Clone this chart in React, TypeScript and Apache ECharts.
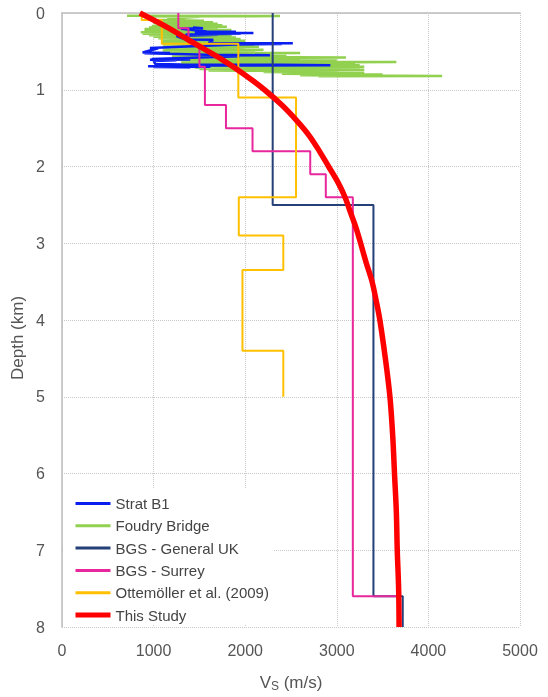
import React, { useEffect, useRef } from 'react';
import * as echarts from 'echarts';

const FONT = '"Liberation Sans", Arial, Helvetica, sans-serif';

// Axis ranges / ticks
const vsMin = 0, vsMax = 5000, vsStep = 1000;
const depthMin = 0, depthMax = 8, depthStep = 1;

// Series names
const seriesNames = ['Strat B1', 'Foudry Bridge', 'BGS - General UK', 'BGS - Surrey', 'Ottemöller et al. (2009)', 'This Study'];

// BGS - General UK layered model
const bgsUkVs = [2300, 3400, 3720];
const bgsUkBounds = [0, 2.5, 7.6, 8.0];

// BGS - Surrey layered model
const bgsSurreyVs = [1270, 1380, 1500, 1560, 1790, 2080, 2710, 2880, 3175, 3680];
const bgsSurreyBounds = [0, 0.2, 0.4, 0.7, 1.2, 1.5, 1.8, 2.1, 2.4, 7.6, 8.0];

// Ottemöller et al. (2009)
const ottVs = [870, 1090, 1925, 2555, 1930, 2416, 1970, 2416];
const ottBounds = [0, 0.09, 0.4, 1.1, 2.4, 2.9, 3.35, 4.4, 5.0];

// This Study (smooth gradient)
const studyDepth = [0, 0.2, 0.4, 0.6, 0.8, 1.0, 1.2, 1.4, 1.6, 1.8, 2.0, 2.2, 2.4, 2.6, 2.8, 3.0, 3.25, 3.5, 3.75, 4.0, 4.5, 5.0, 5.5, 6.0, 6.5, 7.0, 7.5, 8.0];
const studyVs = [850, 1170, 1450, 1740, 1990, 2210, 2400, 2560, 2700, 2810, 2910, 3010, 3090, 3150, 3210, 3260, 3320, 3385, 3430, 3470, 3530, 3580, 3610, 3630, 3650, 3660, 3675, 3680];

// Foudry Bridge log
const foudryDepth = [0.035, 0.04, 0.045, 0.05, 0.075, 0.08, 0.09, 0.10, 0.11, 0.12, 0.13, 0.14, 0.15, 0.16, 0.17, 0.18, 0.19, 0.20, 0.21, 0.22, 0.23, 0.24, 0.25, 0.26, 0.27, 0.28, 0.29, 0.30, 0.31, 0.32, 0.33, 0.34, 0.35, 0.36, 0.37, 0.38, 0.39, 0.40, 0.41, 0.42, 0.43, 0.44, 0.45, 0.46, 0.47, 0.48, 0.49, 0.50, 0.51, 0.52, 0.53, 0.54, 0.55, 0.56, 0.57, 0.58, 0.59, 0.60, 0.61, 0.62, 0.63, 0.64, 0.65, 0.66, 0.67, 0.68, 0.69, 0.70, 0.71, 0.72, 0.73, 0.74, 0.75, 0.76, 0.77, 0.78, 0.79, 0.80, 0.81, 0.82, 0.825];
const foudryVs = [710, 2380, 1000, 1500, 1150, 1350, 1050, 1550, 1080, 1650, 1000, 1700, 1050, 1750, 980, 1800, 950, 1700, 900, 1850, 900, 1750, 860, 1900, 880, 1800, 950, 1850, 1000, 1900, 1050, 1950, 1100, 2000, 1100, 1900, 1080, 2050, 1100, 2100, 1120, 2150, 1100, 2000, 1130, 2200, 1100, 2100, 1150, 2600, 1150, 2300, 1200, 2450, 1200, 3100, 1250, 2600, 1250, 3000, 1300, 3650, 1300, 3200, 1350, 3250, 1400, 3300, 1450, 3250, 1500, 3300, 1600, 3000, 2200, 3300, 2400, 3500, 2600, 4150, 2800];

// Strat B1 log
const stratDepth = [0.19, 0.20, 0.205, 0.24, 0.245, 0.25, 0.26, 0.265, 0.27, 0.28, 0.285, 0.30, 0.345, 0.35, 0.39, 0.395, 0.40, 0.405, 0.41, 0.455, 0.46, 0.515, 0.52, 0.525, 0.53, 0.545, 0.55, 0.555, 0.565, 0.60, 0.605, 0.61, 0.615, 0.625, 0.665, 0.67, 0.675, 0.68, 0.685, 0.695, 0.70, 0.705, 0.71];
const stratVs = [1430, 1540, 1300, 1580, 1900, 1450, 2090, 1500, 1950, 1350, 1700, 1250, 1350, 1650, 1600, 2520, 1800, 2400, 1900, 960, 1050, 880, 1180, 900, 1150, 1580, 2270, 1620, 1940, 980, 1400, 960, 1250, 1000, 1020, 1300, 2380, 2930, 1400, 940, 1620, 1000, 1400];

const colors = {
  strat: '#0A1EF0',
  foudry: '#92D050',
  bgsUk: '#253F78',
  surrey: '#E8279C',
  ott: '#FFC000',
  study: '#FF0000',
};

function steps(vs: number[], bounds: number[]) {
  const pts: number[][] = [];
  vs.forEach((v, i) => {
    pts.push([v, bounds[i]]);
    pts.push([v, bounds[i + 1]]);
  });
  return pts;
}

function pairs(vs: number[], ds: number[]) {
  return vs.map((v, i) => [v, ds[i]]);
}

const hiddenSymbol = { color: 'rgba(0,0,0,0)', borderColor: 'rgba(0,0,0,0)', borderWidth: 0, opacity: 0 };

export default function App() {
  const ref = useRef<HTMLDivElement>(null);
  useEffect(() => {
    if (!ref.current) return;
    const chart = echarts.init(ref.current, null, { renderer: 'svg' });
    const lineSeries = (name: string, data: number[][], color: string, width: number, smooth: number | boolean = false) => ({
      name,
      type: 'line',
      data,
      symbol: 'none',
      showSymbol: false,
      smooth,
      z: 2,
      lineStyle: { color, width },
      itemStyle: { color },
      emphasis: { disabled: true },
    });
    const legendItem = (name: string, color: string, width: number) => ({
      name,
      itemStyle: hiddenSymbol,
      lineStyle: { color, width, opacity: 1 },
    });
    chart.setOption({
      animation: false,
      grid: { left: 62, right: 28, top: 13, bottom: 69 },
      xAxis: {
        type: 'value',
        min: vsMin,
        max: vsMax,
        interval: vsStep,
        name: 'V{s|S} (m/s)',
        nameLocation: 'middle',
        nameGap: 45,
        nameTextStyle: {
          fontSize: 17,
          color: '#555',
          fontFamily: FONT,
          rich: { s: { fontSize: 12, color: '#555', fontFamily: FONT, padding: [8, 0, 0, 0] } },
        },
        axisLine: { show: true, lineStyle: { color: '#bdbdbd', width: 1.5 } },
        axisTick: { show: false },
        axisLabel: { fontSize: 16, color: '#555', fontFamily: FONT, margin: 15, formatter: (v: number) => String(v) },
        splitLine: { show: true, lineStyle: { type: 'dotted', color: '#c8c8c8', width: 1 } },
      },
      yAxis: {
        type: 'value',
        inverse: true,
        min: depthMin,
        max: depthMax,
        interval: depthStep,
        axisLine: { show: true, lineStyle: { color: '#bdbdbd', width: 1.5 } },
        axisTick: { show: false },
        axisLabel: { fontSize: 16, color: '#555', fontFamily: FONT, margin: 17, formatter: (v: number) => String(v) },
        splitLine: { show: true, lineStyle: { type: 'dotted', color: '#c8c8c8', width: 1 } },
      },
      graphic: [
        {
          type: 'text',
          x: 17,
          y: 338,
          rotation: Math.PI / 2,
          style: {
            text: 'Depth (km)',
            fontSize: 17,
            fill: '#555',
            fontFamily: FONT,
            align: 'center',
            verticalAlign: 'middle',
          },
        },
      ],
      legend: {
        orient: 'vertical',
        left: 63,
        top: 488,
        padding: [8, 4, 2, 10],
        itemWidth: 35,
        itemHeight: 14,
        itemGap: 7.3,
        backgroundColor: '#ffffff',
        textStyle: { fontSize: 15, color: '#444', fontFamily: FONT, lineHeight: 15 },
        data: [
          legendItem(seriesNames[0], colors.strat, 3),
          legendItem(seriesNames[1], colors.foudry, 3),
          legendItem(seriesNames[2], colors.bgsUk, 3),
          legendItem(seriesNames[3], colors.surrey, 3),
          legendItem(seriesNames[4], colors.ott, 3),
          legendItem(seriesNames[5], colors.study, 5),
        ],
      },
      series: [
        lineSeries(seriesNames[1], pairs(foudryVs, foudryDepth), colors.foudry, 2.5),
        lineSeries(seriesNames[0], pairs(stratVs, stratDepth), colors.strat, 2.5),
        lineSeries(seriesNames[2], steps(bgsUkVs, bgsUkBounds), colors.bgsUk, 2),
        lineSeries(seriesNames[3], steps(bgsSurreyVs, bgsSurreyBounds), colors.surrey, 2),
        lineSeries(seriesNames[4], steps(ottVs, ottBounds), colors.ott, 2),
        lineSeries(seriesNames[5], pairs(studyVs, studyDepth), colors.study, 5.5, 0.35),
      ],
    });
    return () => chart.dispose();
  }, []);
  return <div ref={ref} style={{ position: 'fixed', left: 0, top: 0, width: 548, height: 697 }} />;
}
